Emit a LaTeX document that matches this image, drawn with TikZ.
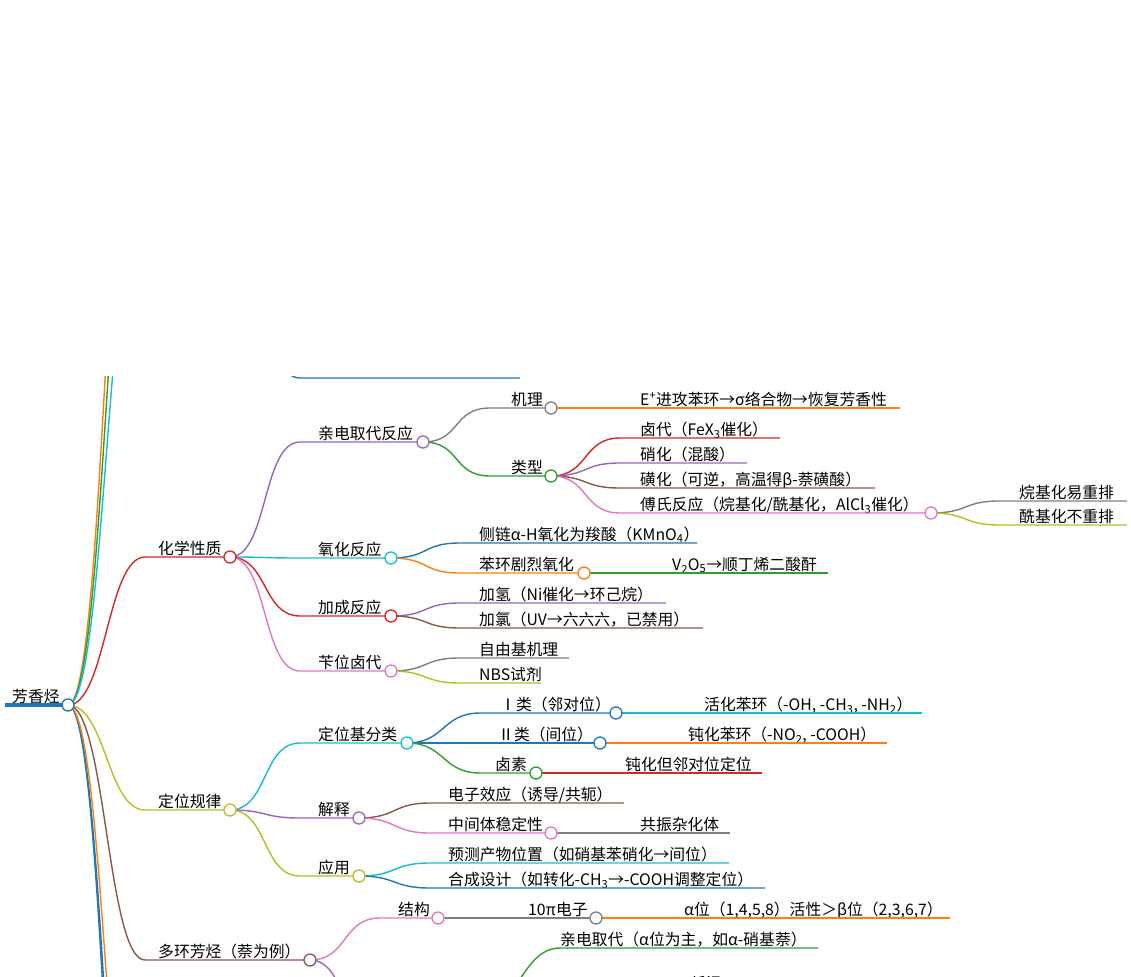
\documentclass[tikz,border=0pt]{standalone}
\usepackage{fontspec}
\setmainfont{Noto Sans CJK SC}
\definecolor{cblue}{HTML}{1F77B4}
\definecolor{corange}{HTML}{FF7F0E}
\definecolor{cgreen}{HTML}{2CA02C}
\definecolor{cred}{HTML}{D62728}
\definecolor{cpurple}{HTML}{9467BD}
\definecolor{cbrown}{HTML}{8C564B}
\definecolor{cpink}{HTML}{E377C2}
\definecolor{cgray}{HTML}{7F7F7F}
\definecolor{colive}{HTML}{BCBD22}
\definecolor{ccyan}{HTML}{17BECF}
\newcommand\sub[1]{\textsubscript{#1}}
% one branch: name, parent, colour, line start x, y, line end x, text x, text
\newcommand\mmbranch[8]{%
  \coordinate (#1-s) at (#4,#5);
  \coordinate (#1) at (#6,#5);
  \node[lbl] (#1-t) at (#7,#5-3) {#8};
  \draw[edge,#3] (#2) .. controls +(38,0) and +(-38,0) .. (#1-s) -- (#1);}

\begin{document}
\begin{tikzpicture}[
x=1pt,y=-1pt,
lbl/.style={anchor=base west,inner sep=0pt,font=\fontsize{15.8}{18}\selectfont},
edge/.style={line width=1.4pt},
dot/.style={circle,fill=white,line width=1.3pt,minimum size=12pt,inner sep=0pt}
]
\useasboundingbox (0,0) rectangle (1131,976);
\clip (0,376) rectangle (1131,976);

% root
\coordinate (root-s) at (5,705);
\coordinate (root) at (68,705);
\node[lbl] (root-t) at (12,702) {芳香烃};
\draw[cblue,line width=4pt] (root-s) -- (root);

% branches outside the view
\coordinate (up1) at (145,0);
\coordinate (up2) at (145,100);
\coordinate (up3) at (145,200);
\coordinate (dn1) at (145,1400);
\coordinate (dn2) at (145,1350);
\coordinate (dn3) at (145,1250);
\draw[edge,corange] (root) .. controls +(38,0) and +(-38,0) .. (up1);
\draw[edge,cgreen] (root) .. controls +(38,0) and +(-38,0) .. (up2);
\draw[edge,ccyan] (root) .. controls +(38,0) and +(-38,0) .. (up3);
\draw[edge,cblue] (root) .. controls +(38,0) and +(-38,0) .. (dn1);
\draw[edge,cblue] (root) .. controls +(38,0) and +(-38,0) .. (dn2);
\draw[edge,corange] (root) .. controls +(38,0) and +(-38,0) .. (dn3);
\coordinate (hid1) at (230,250);
\mmbranch{hidleaf}{hid1}{cblue}{300}{378}{520}{320}{}

% chemical properties
\mmbranch{chem}{root}{cred}{145}{557}{230}{158}{化学性质}
\mmbranch{eas}{chem}{cpurple}{300}{442}{423}{318}{亲电取代反应}
\mmbranch{mech}{eas}{cgray}{490}{408}{551}{511}{机理}
\mmbranch{mechl}{mech}{corange}{620}{408}{900}{640}{E\textsuperscript{+}进攻苯环→σ络合物→恢复芳香性}
\mmbranch{kind}{eas}{cgreen}{490}{476}{551}{511}{类型}
\mmbranch{halo}{kind}{cred}{620}{438}{780}{640}{卤代（FeX\sub{3}催化）}
\mmbranch{nitr}{kind}{cpurple}{620}{463}{747}{640}{硝化（混酸）}
\mmbranch{sulf}{kind}{cbrown}{620}{488}{875}{640}{磺化（可逆，高温得β-萘磺酸）}
\mmbranch{fc}{kind}{cpink}{620}{513}{931}{640}{傅氏反应（烷基化/酰基化，AlCl\sub{3}催化）}
\mmbranch{alk}{fc}{cgray}{1000}{501}{1127}{1019}{烷基化易重排}
\mmbranch{acy}{fc}{colive}{1000}{525}{1127}{1019}{酰基化不重排}

\mmbranch{oxi}{chem}{ccyan}{300}{558}{391}{318}{氧化反应}
\mmbranch{side}{oxi}{cblue}{460}{543}{697}{479}{侧链α-H氧化为羧酸（KMnO\sub{4}）}
\mmbranch{ring}{oxi}{corange}{460}{573}{584}{479}{苯环剧烈氧化}
\mmbranch{vox}{ring}{cgreen}{650}{573}{828}{672}{V\sub{2}O\sub{5}→顺丁烯二酸酐}

\mmbranch{add}{chem}{cred}{300}{616}{391}{318}{加成反应}
\mmbranch{hyd}{add}{cpurple}{460}{603}{666}{479}{加氢（Ni催化→环己烷）}
\mmbranch{chl}{add}{cbrown}{460}{628}{703}{479}{加氯（UV→六六六，已禁用）}

\mmbranch{benz}{chem}{cpink}{300}{671}{391}{318}{苄位卤代}
\mmbranch{rad}{benz}{cgray}{460}{658}{569}{479}{自由基机理}
\mmbranch{nbs}{benz}{colive}{460}{683}{541}{479}{NBS试剂}

% orientation rules
\mmbranch{orient}{root}{colive}{145}{810}{230}{158}{定位规律}
\mmbranch{cls}{orient}{ccyan}{300}{743}{407}{318}{定位基分类}
\mmbranch{one}{cls}{cblue}{480}{713}{616}{500}{Ⅰ类（邻对位）}
\mmbranch{act}{one}{ccyan}{680}{713}{922}{704}{活化苯环（-OH, -CH\sub{3}, -NH\sub{2}）}
\mmbranch{two}{cls}{cblue}{480}{743}{600}{498}{Ⅱ类（间位）}
\mmbranch{deact}{two}{corange}{665}{743}{887}{688}{钝化苯环（-NO\sub{2}, -COOH）}
\mmbranch{hal}{cls}{cgreen}{480}{773}{536}{495}{卤素}
\mmbranch{halx}{hal}{cred}{600}{773}{762}{625}{钝化但邻对位定位}

\mmbranch{expl}{orient}{cpurple}{300}{818}{359}{318}{解释}
\mmbranch{elec}{expl}{cbrown}{430}{803}{624}{448}{电子效应（诱导/共轭）}
\mmbranch{inter}{expl}{cpink}{430}{833}{551}{448}{中间体稳定性}
\mmbranch{reso}{inter}{cgray}{615}{833}{730}{640}{共振杂化体}

\mmbranch{use}{orient}{colive}{300}{876}{359}{318}{应用}
\mmbranch{pred}{use}{ccyan}{430}{863}{729}{448}{预测产物位置（如硝基苯硝化→间位）}
\mmbranch{synth}{use}{cblue}{430}{888}{765}{448}{合成设计（如转化-CH\sub{3}→-COOH调整定位）}

% polycyclic
\mmbranch{poly}{root}{cbrown}{145}{960}{310}{158}{多环芳烃（萘为例）}
\mmbranch{struct}{poly}{cpink}{380}{918}{438}{398}{结构}
\mmbranch{pie}{struct}{cgray}{510}{918}{596}{528}{10π电子}
\mmbranch{alpha}{pie}{corange}{660}{918}{950}{684}{α位（1,4,5,8）活性＞β位（2,3,6,7）}
\coordinate (react) at (380,1040);
\draw[edge,cpurple] (poly) .. controls +(38,0) and +(-38,0) .. (react);
\coordinate (react2) at (480,1010);
\mmbranch{easn}{react2}{cgreen}{560}{948}{818}{560}{亲电取代（α位为主，如α-硝基萘）}
\coordinate (sulfn) at (560,1030);
\mmbranch{low}{sulfn}{cblue}{660}{992}{760}{690}{低温→α}

% circles on top
\foreach \n/\c in {root/cblue,chem/cred,eas/cpurple,mech/cgray,kind/cgreen,
  fc/cpink,oxi/ccyan,ring/corange,add/cred,benz/cpink,orient/colive,cls/ccyan,
  one/cblue,two/cblue,hal/cgreen,expl/cpurple,inter/cpink,use/colive,
  poly/cbrown,struct/cpink,pie/cgray}
  \node[dot,draw=\c] at (\n) {};
\end{tikzpicture}
\end{document}
